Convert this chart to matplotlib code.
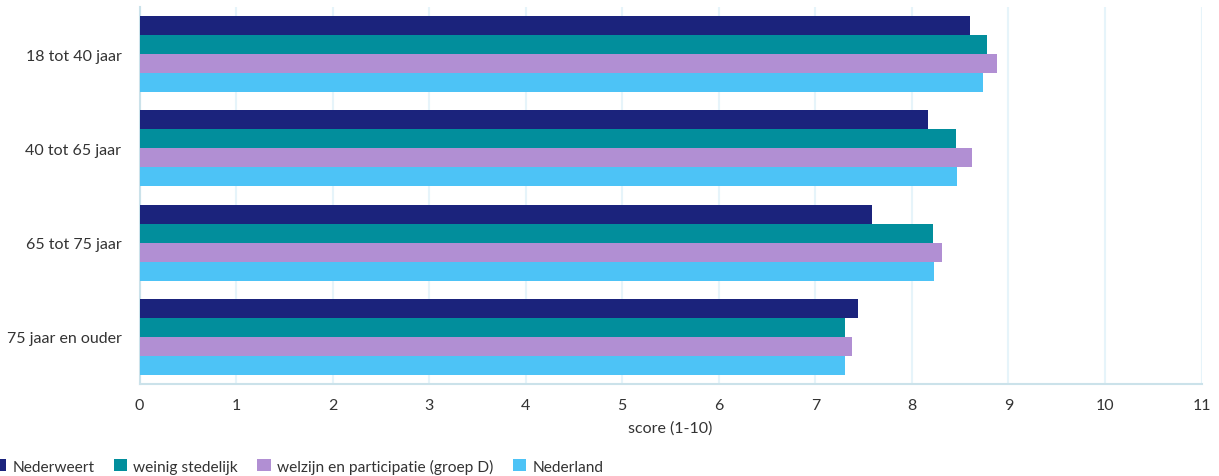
import numpy as np
import matplotlib.pyplot as plt

plt.rcParams['font.family'] = ['Lato', 'DejaVu Sans']

categories = ['18 tot 40 jaar', '40 tot 65 jaar', '65 tot 75 jaar', '75 jaar en ouder']
series = ['Nederweert', 'weinig stedelijk', 'welzijn en participatie (groep D)', 'Nederland']
nederweert = [8.60, 8.17, 7.59, 7.44]
weinig_stedelijk = [8.78, 8.46, 8.22, 7.31]
welzijn = [8.88, 8.62, 8.31, 7.38]
nederland = [8.74, 8.47, 8.23, 7.31]
values = [nederweert, weinig_stedelijk, welzijn, nederland]
colors = ['#1b237c', '#028e9c', '#b18fd3', '#4dc3f6']

fig = plt.figure(figsize=(12.19, 4.77), dpi=100)
ax = fig.add_axes([139.5 / 1219, 1 - 385 / 477, 1062 / 1219, 377 / 477])

y = np.arange(len(categories))
h = 0.2016
for i, (vals, name, col) in enumerate(zip(values, series, colors)):
    ax.barh(y - 1.5 * h + i * h, vals, height=h, color=col, label=name, zorder=3)

ax.set_ylim(len(categories) - 0.5, -0.5)
ax.set_xlim(0, 11)
ax.set_xticks(range(0, 12))
ax.set_yticks(y)
ax.set_yticklabels(categories)
ax.tick_params(axis='both', length=0, labelsize=11.5, colors='#333333')
ax.tick_params(axis='x', pad=10)
ax.tick_params(axis='y', pad=13)
ax.grid(axis='x', color='#e6f4fa', linewidth=1.5, zorder=0)
for s in ['top', 'right']:
    ax.spines[s].set_visible(False)
for s in ['left', 'bottom']:
    ax.spines[s].set_color('#cbe2ea')
    ax.spines[s].set_linewidth(1.5)
ax.set_xlabel('score (1-10)', fontsize=11.5, color='#333333', labelpad=6)

handles, labels = ax.get_legend_handles_labels()
fig.legend(handles, labels, loc='center left', bbox_to_anchor=(-0.0058, 1 - 467 / 477), ncol=4,
           frameon=False, fontsize=11.2, handlelength=0.85, handleheight=0.85,
           handletextpad=0.4, columnspacing=1.25, labelcolor='#333333',
           borderaxespad=0, borderpad=0)

fig.savefig('out.png', dpi=100)
